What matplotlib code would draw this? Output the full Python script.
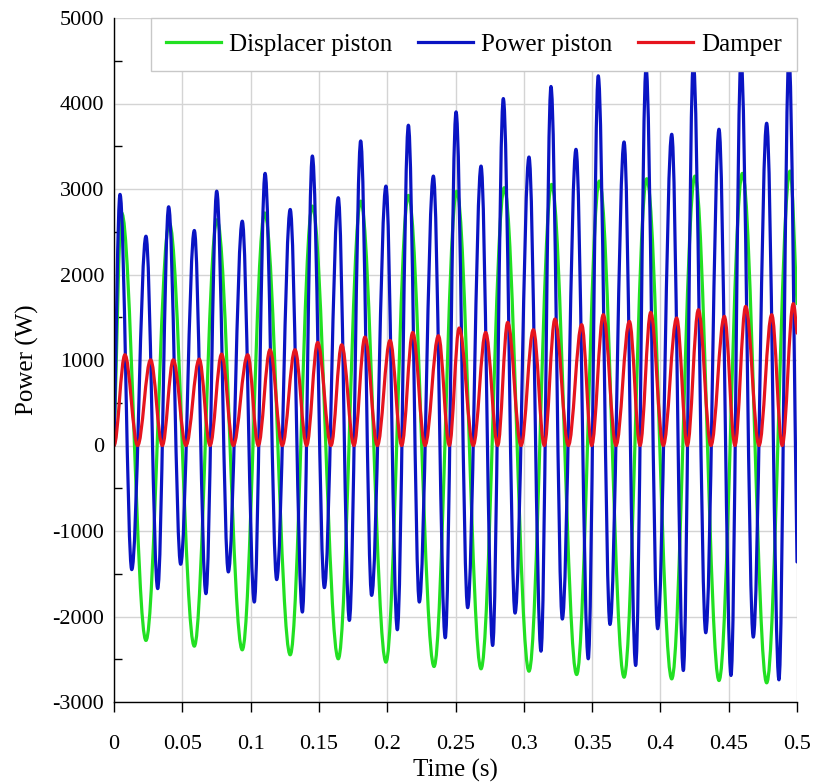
import matplotlib
matplotlib.use('Agg')
import matplotlib.pyplot as plt
from matplotlib.path import Path
from matplotlib.patches import PathPatch
from matplotlib.lines import Line2D
from matplotlib.ticker import MultipleLocator

plt.rcParams['font.family'] = ['Liberation Serif', 'DejaVu Serif']

# ---------------- data (turning points) ----------------
# Displacer piston (green): start, then alternating peaks / troughs, end value
disp_t = [0.0, 0.0056, 0.0234, 0.0405, 0.0588, 0.0754, 0.0939, 0.1103, 0.1290,
          0.1452, 0.1642, 0.1806, 0.1991, 0.2155, 0.2343, 0.2509, 0.2687, 0.2857,
          0.3038, 0.3204, 0.3387, 0.3553, 0.3734, 0.3900, 0.4083, 0.4253, 0.4429,
          0.4600, 0.4778, 0.4949, 0.5000]
disp_p = [0, 2720, -2280, 2600, -2347, 2640, -2390, 2720, -2448,
          2800, -2495, 2858, -2534, 2925, -2585, 2975, -2612, 3015,
          -2640, 3054, -2679, 3093, -2710, 3120, -2730, 3151, -2749,
          3183, -2776, 3210, 1660]

# Power piston (blue)
pow_t = [0.0, 0.0044, 0.0130, 0.0234, 0.0320, 0.0400, 0.0488, 0.0588, 0.0673,
         0.0752, 0.0837, 0.0939, 0.1027, 0.1106, 0.1191, 0.1290, 0.1379, 0.1452,
         0.1540, 0.1642, 0.1723, 0.1806, 0.1886, 0.1991, 0.2074, 0.2155, 0.2235,
         0.2338, 0.2425, 0.2504, 0.2589, 0.2687, 0.2772, 0.2850, 0.2936, 0.3038,
         0.3126, 0.3199, 0.3282, 0.3382, 0.3472, 0.3545, 0.3631, 0.3734, 0.3819,
         0.3895, 0.3980, 0.4083, 0.4168, 0.4241, 0.4332, 0.4429, 0.4517, 0.4590,
         0.4680, 0.4778, 0.4868, 0.4941, 0.5000]
pow_p = [0, 2937, -1452, 2448, -1674, 2792, -1389, 2515, -1733,
         2975, -1479, 2624, -1831, 3183, -1569, 2761, -1948, 3386,
         -1663, 2898, -2046, 3562, -1753, 3034, -2155, 3746, -1831,
         3151, -2249, 3902, -1897, 3268, -2339, 4058, -1960, 3374,
         -2406, 4199, -2030, 3464, -2495, 4324, -2093, 3550, -2573,
         4420, -2143, 3640, -2632, 4480, -2190, 3699, -2690, 4520,
         -2241, 3769, -2741, 4560, -1362]

# Damper (red)
damp_t = [0.0, 0.0080, 0.0173, 0.0268, 0.0354, 0.0434, 0.0527, 0.0624, 0.0703,
          0.0788, 0.0873, 0.0979, 0.1056, 0.1142, 0.1232, 0.1325, 0.1410, 0.1491,
          0.1589, 0.1667, 0.1757, 0.1837, 0.1928, 0.2021, 0.2106, 0.2187, 0.2277,
          0.2375, 0.2455, 0.2527, 0.2630, 0.2721, 0.2809, 0.2882, 0.2980, 0.3070,
          0.3150, 0.3228, 0.3326, 0.3424, 0.3497, 0.3582, 0.3675, 0.3773, 0.3851,
          0.3929, 0.4021, 0.4119, 0.4197, 0.4278, 0.4370, 0.4468, 0.4546, 0.4624,
          0.4722, 0.4815, 0.4892, 0.4973, 0.5000]
damp_p = [0, 1061, 0, 1002, 0, 1002, 0, 1010, 0,
          1069, 0, 1061, 0, 1120, 0, 1120, 0, 1205,
          0, 1178, 0, 1268, 0, 1229, 0, 1322, 0,
          1284, 0, 1374, 0, 1322, 0, 1440, 0, 1354,
          0, 1479, 0, 1413, 0, 1530, 0, 1451, 0,
          1557, 0, 1491, 0, 1588, 0, 1510, 0, 1627,
          0, 1530, 0, 1659, 1315]

series_names = ['Displacer piston', 'Power piston', 'Damper']
x_ticks = [0, 0.05, 0.1, 0.15, 0.2, 0.25, 0.3, 0.35, 0.4, 0.45, 0.5]
x_tick_labels = ['0', '0.05', '0.1', '0.15', '0.2', '0.25', '0.3', '0.35', '0.4', '0.45', '0.5']
y_ticks = [-3000, -2000, -1000, 0, 1000, 2000, 3000, 4000, 5000]
y_tick_labels = ['-3000', '-2000', '-1000', '0', '1000', '2000', '3000', '4000', '5000']

colors = ['#22E022', '#0A14C3', '#E6141E']
LW = 2.3


def smooth_path(t, v, first_is_ext, last_is_ext):
    """Smooth curve through turning points, drawn by matplotlib as Bezier path."""
    k = 0.363
    n = len(t)
    ext = [True] * n
    ext[0] = first_is_ext
    ext[-1] = last_is_ext
    verts = [(t[0], v[0])]
    codes = [Path.MOVETO]
    for i in range(n - 1):
        dt = t[i + 1] - t[i]
        dv = v[i + 1] - v[i]
        if ext[i]:
            p1 = (t[i] + k * dt, v[i])
        else:
            p1 = (t[i] + dt / 3, v[i] + dv / 3)
        if ext[i + 1]:
            p2 = (t[i + 1] - k * dt, v[i + 1])
        else:
            p2 = (t[i + 1] - dt / 3, v[i + 1] - dv / 3)
        verts += [p1, p2, (t[i + 1], v[i + 1])]
        codes += [Path.CURVE4] * 3
    return Path(verts, codes)


W, H = 815, 784
fig = plt.figure(figsize=(W / 100, H / 100), dpi=100)
ax = fig.add_axes([114 / W, 1 - 702 / H, (797 - 114) / W, (702 - 18) / H])

data = [(disp_t, disp_p, False), (pow_t, pow_p, False), (damp_t, damp_p, True)]
for (t, p, first_ext), c in zip(data, colors):
    patch = PathPatch(smooth_path(t, p, first_ext, False), facecolor='none',
                      edgecolor=c, lw=LW, capstyle='round', joinstyle='round')
    ax.add_patch(patch)

ax.set_xlim(0, 0.5)
ax.set_ylim(-3000, 5000)
ax.set_xticks(x_ticks)
ax.set_xticklabels(x_tick_labels)
ax.set_yticks(y_ticks)
ax.set_yticklabels(y_tick_labels)
ax.yaxis.set_minor_locator(MultipleLocator(500))

ax.grid(True, which='major', color='#D4D4D4', lw=1.0)
ax.set_axisbelow(True)
for s in ['top', 'right']:
    ax.spines[s].set_visible(False)
for s in ['left', 'bottom']:
    ax.spines[s].set_color('black')
    ax.spines[s].set_linewidth(1.0)

ax.tick_params(axis='x', which='major', direction='out', length=7, width=1,
               labelsize=16, pad=17)
ax.tick_params(axis='y', which='major', length=0, labelsize=16, pad=7)
ax.tick_params(axis='y', which='minor', direction='in', length=6, width=1)

ax.set_xlabel('Time (s)', fontsize=18, labelpad=3)
ax.set_ylabel('Power (W)', fontsize=18, labelpad=10)

handles = [Line2D([], [], color=c, lw=LW) for c in colors]
leg = ax.legend(handles, series_names, loc='upper right', ncol=3, fontsize=18,
                frameon=True, fancybox=False, framealpha=1, edgecolor='#C8C8C8',
                borderaxespad=0, handlelength=2.2, handletextpad=0.35,
                columnspacing=1.0, borderpad=0.6)
leg.get_frame().set_linewidth(1.0)
leg.set_zorder(10)

fig.savefig('out.png', dpi=100)
